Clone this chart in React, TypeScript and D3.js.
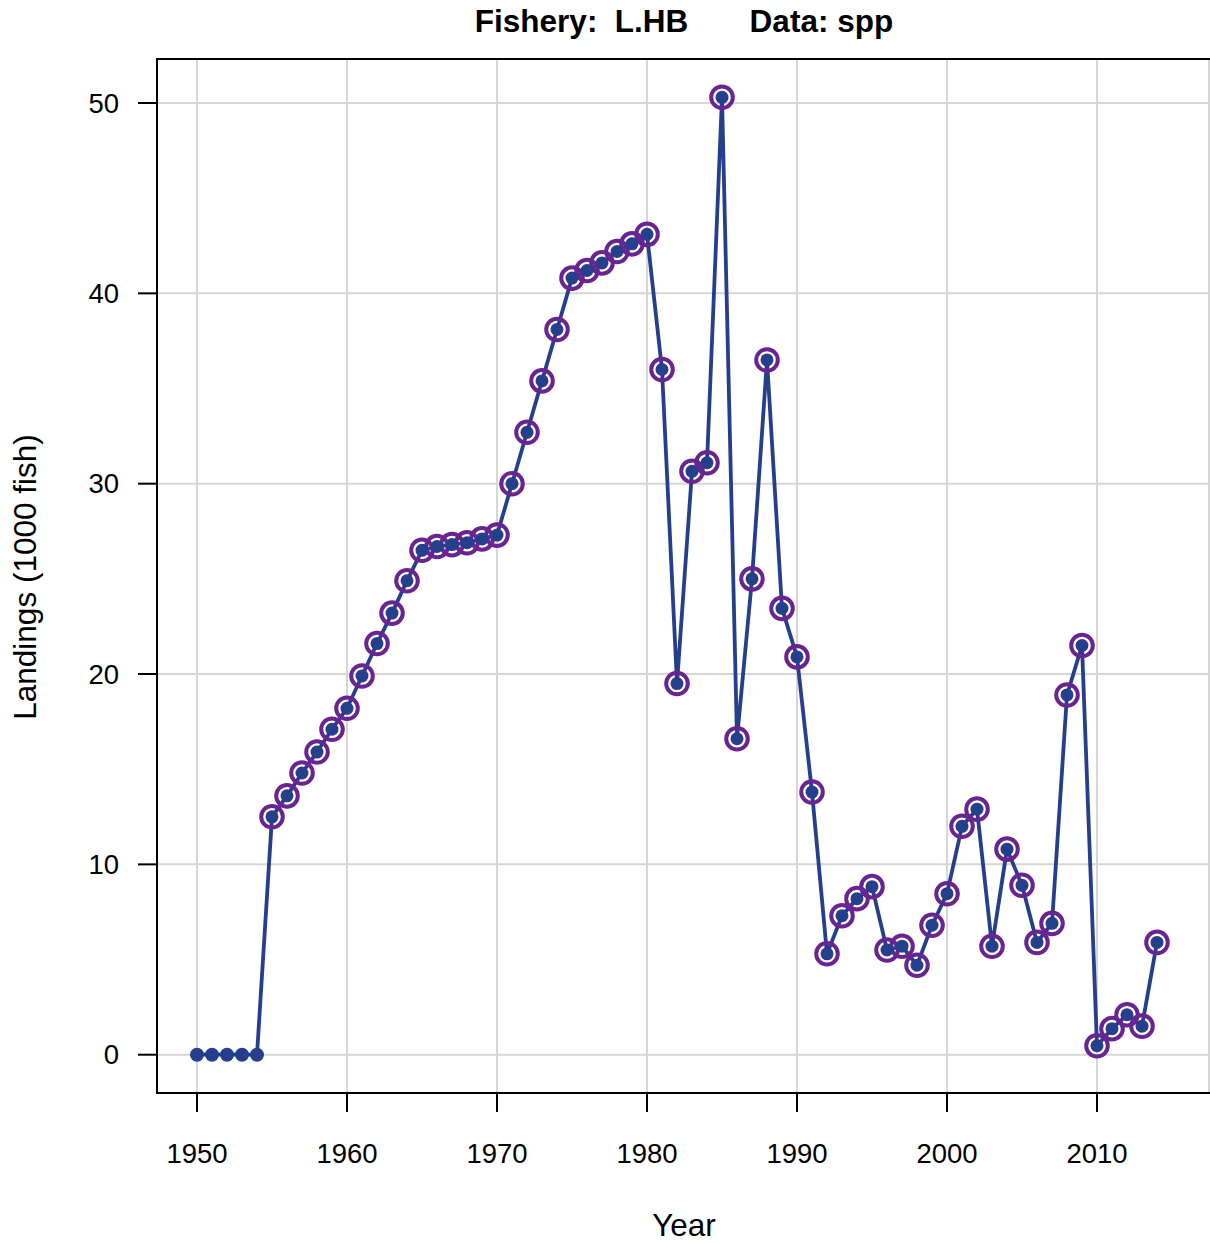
import React from "react";
import * as d3 from "d3";

const years: number[] = d3.range(1950, 2015);
const landings: number[] = [
  0, 0, 0, 0, 0,
  12.5, 13.6, 14.8, 15.9, 17.1,
  18.2, 19.9, 21.6, 23.2, 24.9,
  26.5, 26.7, 26.8, 26.9, 27.1,
  27.3, 30.0, 32.7, 35.4, 38.1,
  40.8, 41.2, 41.6, 42.2, 42.6,
  43.1, 36.0, 19.5, 30.65, 31.1,
  50.3, 16.6, 25.0, 36.5, 23.45,
  20.9, 13.8, 5.3, 7.3, 8.2,
  8.83, 5.5, 5.7, 4.7, 6.8,
  8.46, 12.0, 12.9, 5.7, 10.8,
  8.9, 5.9, 6.9, 18.9, 21.5,
  0.47, 1.37, 2.1, 1.5, 5.9,
];
// years with observed data (ringed points)
const ringed: boolean[] = years.map((y) => y >= 1955);
const xTicks: number[] = [1950, 1960, 1970, 1980, 1990, 2000, 2010];
const yTicks: number[] = [0, 10, 20, 30, 40, 50];

const W = 1210;
const H = 1243;
const left = 157;
const top = 59;
const bottom = 1093;
const FONT = "'Liberation Sans', Arial, sans-serif";

export default function App() {
  const x = d3.scaleLinear().domain([1947.44, 2016.56]).range([158.6, 1195.4]);
  const y = d3.scaleLinear().domain([-2.012, 52.312]).range([bottom, top]);
  const line = d3
    .line<number>()
    .x((_, i) => x(years[i]))
    .y((d) => y(d));
  const blue = "#263F8C";
  const purple = "#6A2491";
  const grid = "#d6d6d6";
  return (
    <svg width={W} height={H} style={{ display: "block", position: "absolute", left: 0, top: 0 }}>
      <rect x={0} y={0} width={W} height={H} fill="#fff" />
      {xTicks.map((t) => (
        <line key={"gx" + t} x1={x(t)} x2={x(t)} y1={top} y2={bottom} stroke={grid} strokeWidth={2} />
      ))}
      {yTicks.map((t) => (
        <line key={"gy" + t} x1={left} x2={W} y1={y(t)} y2={y(t)} stroke={grid} strokeWidth={2} />
      ))}
      <line x1={1209} x2={1209} y1={top} y2={bottom} stroke={grid} strokeWidth={2} />
      <path d={`M${W + 2},${top}H${left}V${bottom}H${W + 2}`} fill="none" stroke="#000" strokeWidth={2} />
      {xTicks.map((t) => (
        <g key={"tx" + t}>
          <line x1={x(t)} x2={x(t)} y1={bottom} y2={bottom + 19} stroke="#000" strokeWidth={2} />
          <text x={x(t)} y={1163} textAnchor="middle" fontFamily={FONT} fontSize={27.5} fill="#000">
            {t}
          </text>
        </g>
      ))}
      {yTicks.map((t) => (
        <g key={"ty" + t}>
          <line x1={left - 19} x2={left} y1={y(t)} y2={y(t)} stroke="#000" strokeWidth={2} />
          <text x={119} y={y(t) + 9.5} textAnchor="end" fontFamily={FONT} fontSize={27.5} fill="#000">
            {t}
          </text>
        </g>
      ))}
      <path d={line(landings) || ""} fill="none" stroke={blue} strokeWidth={3.8} strokeLinejoin="round" />
      {landings.map((v, i) =>
        ringed[i] ? (
          <circle key={"r" + i} cx={x(years[i])} cy={y(v)} r={10.8} fill="none" stroke={purple} strokeWidth={4} />
        ) : null
      )}
      {landings.map((v, i) => (
        <circle key={"p" + i} cx={x(years[i])} cy={y(v)} r={ringed[i] ? 6.5 : 7} fill={blue} />
      ))}
      <text x={684} y={32} textAnchor="middle" fontFamily={FONT} fontSize={31.5} fontWeight="bold" fill="#000" style={{ whiteSpace: "pre" }}>
        {"Fishery:  L.HB       Data: spp"}
      </text>
      <text x={684} y={1236} textAnchor="middle" fontFamily={FONT} fontSize={31.5} fill="#000">
        Year
      </text>
      <text
        transform={`translate(36,577) rotate(-90)`}
        textAnchor="middle"
        fontFamily={FONT}
        fontSize={31.5}
        fill="#000"
      >
        Landings (1000 fish)
      </text>
    </svg>
  );
}
